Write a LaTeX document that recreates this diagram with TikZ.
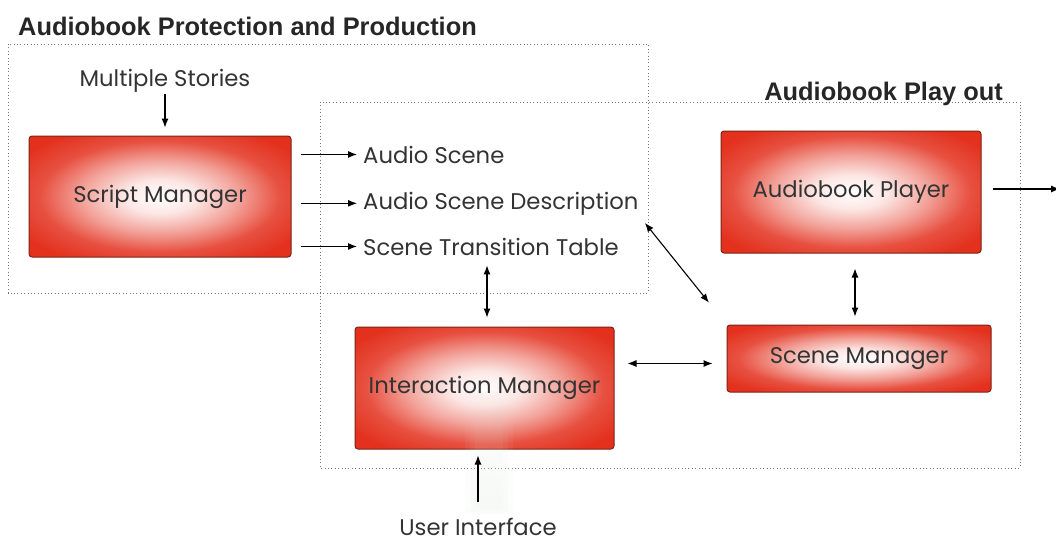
\documentclass[tikz,border=0pt]{standalone}
\usepackage{fontspec}
\setmainfont{Poppins}
\newfontfamily\titlefont{Liberation Sans}
\usetikzlibrary{arrows.meta,fadings}

\definecolor{boxred}{HTML}{E3311E}
\definecolor{boxrim}{HTML}{7A2418}
\definecolor{inktext}{HTML}{333333}
\definecolor{dotgrey}{HTML}{777777}
\definecolor{haze}{HTML}{E2EDE2}

% bright centre fading out to a saturated red rim
\pgfdeclareradialshading{glow}{\pgfpoint{0bp}{0bp}}{%
  color(0bp)=(white); color(7bp)=(boxred!12!white);
  color(15bp)=(boxred!45!white); color(23bp)=(boxred!85!white);
  color(31bp)=(boxred); color(50bp)=(boxred)}

\tikzfading[name=vband, top color=transparent!100, middle color=transparent!30, bottom color=transparent!75]

\tikzset{
  mgr/.style={draw=boxrim, line width=1pt, rounded corners=3pt, shading=glow,
    inner sep=0pt, font=\fontsize{22.7}{27}\selectfont, text=inktext},
  lbl/.style={inner sep=0pt, font=\fontsize{22.7}{27}\selectfont, text=inktext},
  ttl/.style={inner sep=0pt, font=\titlefont\bfseries\fontsize{25.4}{30}\selectfont, text=black!85},
  dotbox/.style={draw=dotgrey, line width=1pt, dash pattern=on 1pt off 2.4pt},
  arr/.style={draw=black, line width=1.1pt, -{Latex[length=9pt,width=7pt]}},
  dbl/.style={draw=black, line width=1.1pt, {Latex[length=9pt,width=7pt]}-{Latex[length=9pt,width=7pt]}},
  hazeband/.style={fill=haze, path fading=vband, opacity=0.5},
}

\begin{document}
\begin{tikzpicture}[x=1pt,y=-1pt]
\useasboundingbox (0,0) rectangle (1056,542);
\clip (0,0) rectangle (1056,542);

% group frames
\draw[dotbox] (8,44) rectangle (648,293);
\draw[dotbox] (320,102) rectangle (1020,468);
\node[ttl, anchor=base west] (t1) at (18,35) {Audiobook Protection and Production};
\node[ttl, anchor=base east] (t2) at (1003,100) {Audiobook Play out};

% components
\node[mgr, minimum width=262pt, minimum height=121pt] (sm)  at (160,196.5) {Script Manager};
\node[mgr, minimum width=260pt, minimum height=122pt] (ap)  at (851,192)   {Audiobook Player};
\node[mgr, minimum width=264pt, minimum height=67pt]  (scm) at (859,358.5) {Scene Manager};
\node[mgr, minimum width=259pt, minimum height=122pt] (im)  at (484.5,388) {Interaction Manager};

% soft light band over the interaction manager, built from nested strips
\fill[hazeband] (465,380) rectangle (513,514);
\fill[hazeband] (470,385) rectangle (508,512);
\fill[hazeband] (475,390) rectangle (503,510);

% labels
\node[lbl, anchor=base] (ms) at (165,86) {Multiple Stories};
\node[lbl, anchor=base west] (as)  at (363,163) {Audio Scene};
\node[lbl, anchor=base west] (asd) at (363,209) {Audio Scene Description};
\node[lbl, anchor=base west] (stt) at (363,255) {Scene Transition Table};
\node[lbl, anchor=base] (ui) at (478,535) {User Interface};
\coordinate (out) at (1060,189);

% connectors
\draw[arr, shorten <=2pt, shorten >=8pt] (ms.south) -- (ms.south |- sm.north);
\draw[arr, shorten <=9pt, shorten >=6pt] (sm.east |- as.west) -- (as.west);
\draw[arr, shorten <=9pt, shorten >=6pt] (sm.east |- asd.west) -- (asd.west);
\draw[arr, shorten <=9pt, shorten >=6pt] (sm.east |- stt.west) -- (stt.west);
\draw[arr, shorten <=11pt] (ap.east |- out) -- (out);
\draw[dbl, shorten <=10pt, shorten >=9pt] ([xshift=2.5pt]im.north |- stt.south) -- ([xshift=2.5pt]im.north);
\draw[dbl, shorten <=15pt, shorten >=8pt] ([xshift=4pt]ap.south) -- ([xshift=4pt]ap.south |- scm.north);
\draw[dbl, shorten <=13pt, shorten >=14pt] ([yshift=-5pt]im.east |- scm.west) -- ([yshift=-5pt]scm.west);
\draw[dbl, shorten <=10pt, shorten >=28pt] (asd.south east) -- (scm.north west);
\draw[arr, shorten <=15pt, shorten >=6pt] (ui.north) -- (ui.north |- im.south);
\end{tikzpicture}
\end{document}
